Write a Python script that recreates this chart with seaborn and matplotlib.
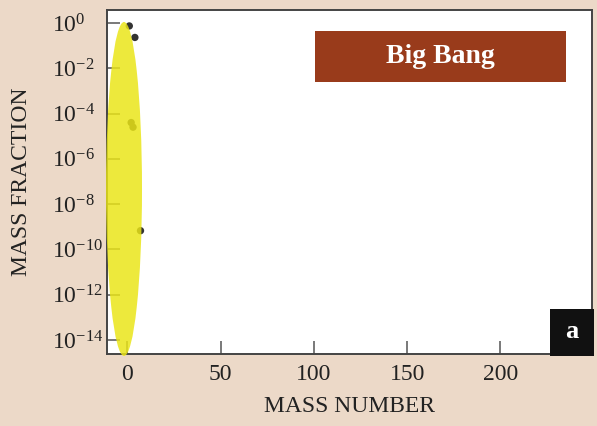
import matplotlib
matplotlib.use("Agg")
import matplotlib.pyplot as plt
import seaborn as sns
import pandas as pd
from matplotlib.patches import Ellipse, Rectangle

# ---- data ----
mass_number = [1, 2, 3, 4, 7]
mass_fraction = [0.74, 4.0e-5, 2.5e-5, 0.23, 6.7e-10]
x_ticks = [0, 50, 100, 150, 200]
y_exponents = [0, -2, -4, -6, -8, -10, -12, -14]
panel_title = "Big Bang"
panel_letter = "a"
x_label = "MASS NUMBER"
y_label = "MASS FRACTION"

df = pd.DataFrame({"A": mass_number, "X": mass_fraction})

sns.set_theme(style="white")
plt.rcParams["font.family"] = ["Liberation Serif", "DejaVu Serif"]
plt.rcParams["mathtext.default"] = "regular"

BG = "#ecd9c8"
fig = plt.figure(figsize=(5.97, 4.26), dpi=100, facecolor=BG)
ax = fig.add_axes([107.3 / 597, (426 - 354) / 426, 484.4 / 597, 344 / 426])
ax.set_facecolor("white")

sns.scatterplot(data=df, x="A", y="X", ax=ax, color="#333333", s=28,
                edgecolor="none", zorder=3)

ax.set_yscale("log")
ax.set_xlim(-10.8, 249)
ax.set_ylim(10 ** -14.62, 10 ** 0.574)

ax.set_xticks(x_ticks)
ax.set_xticklabels([str(t) for t in x_ticks])
ax.set_yticks([10.0 ** e for e in y_exponents])
ax.set_yticklabels([r"$\mathregular{10^{%d}}$" % e for e in y_exponents])
ax.yaxis.set_minor_locator(matplotlib.ticker.NullLocator())

ax.tick_params(axis="both", which="major", direction="in", length=9.5,
               width=1.1, color="#555555", labelsize=17, labelcolor="#222222",
               bottom=True, left=True, top=False, right=False)
ax.tick_params(axis="y", pad=39.5)
ax.tick_params(axis="x", pad=7)
for lab in ax.get_yticklabels():
    lab.set_horizontalalignment("left")

for sp in ax.spines.values():
    sp.set_color("#444444")
    sp.set_linewidth(1.4)
    sp.set_visible(True)

ax.set_xlabel(x_label, fontsize=17, color="#222222")
ax.set_ylabel(y_label, fontsize=17, color="#222222")
ax.xaxis.label.set_verticalalignment("center")
ax.xaxis.set_label_coords(0.5, -0.153)
ax.yaxis.label.set_verticalalignment("center")
ax.yaxis.set_label_coords(-0.177, 0.5)

# highlight ellipse (axes coordinates)
ell = Ellipse((0.0345, 0.4797), 0.0743, 0.971, transform=ax.transAxes,
              facecolor="#eae517", edgecolor="none", alpha=0.84,
              clip_on=False, zorder=10)
ax.add_patch(ell)

# title box
ax.add_patch(Rectangle((0.4288, 0.7907), 0.5182, 0.1483, transform=ax.transAxes,
                       facecolor="#993b1b", edgecolor="none", zorder=5))
ax.text(0.688, 0.865, panel_title, transform=ax.transAxes, ha="center",
        va="center", color="white", fontsize=20, fontweight="bold", zorder=6)

# panel letter box
ax.add_patch(Rectangle((0.914, -0.006), 0.091, 0.137, transform=ax.transAxes,
                       facecolor="#111111", edgecolor="none", clip_on=False,
                       zorder=11))
ax.text(0.9595, 0.064, panel_letter, transform=ax.transAxes, ha="center",
        va="center", color="white", fontsize=19, fontweight="bold", zorder=12)

fig.savefig("out.png", dpi=100, facecolor=BG)
